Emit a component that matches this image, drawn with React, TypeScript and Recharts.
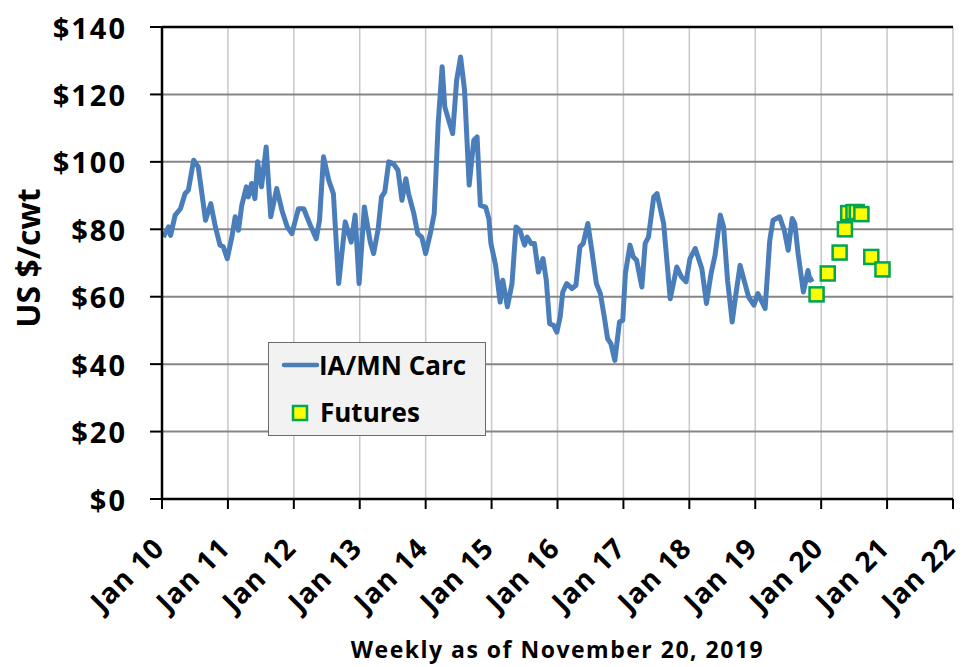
import React from "react";
import {
  ComposedChart,
  Line,
  Scatter,
  XAxis,
  YAxis,
  CartesianGrid,
  ReferenceLine,
  Label,
} from "recharts";

// weekly IA/MN carcass price, decimal year -> $/cwt
const carcWeeks = [
  2010.02, 2010.1, 2010.13, 2010.2, 2010.28, 2010.35, 2010.4, 2010.48, 2010.55, 2010.66,
  2010.74, 2010.81, 2010.88, 2010.93, 2010.99, 2011.06, 2011.11, 2011.16, 2011.21, 2011.28,
  2011.31, 2011.36, 2011.41, 2011.45, 2011.51, 2011.58, 2011.65, 2011.74, 2011.82, 2011.9,
  2011.97, 2012.07, 2012.15, 2012.25, 2012.34, 2012.39, 2012.45, 2012.53, 2012.6, 2012.68,
  2012.78, 2012.87, 2012.93, 2012.99, 2013.07, 2013.16, 2013.21, 2013.28, 2013.33, 2013.38,
  2013.44, 2013.51, 2013.58, 2013.64, 2013.7, 2013.74, 2013.82, 2013.88, 2013.94, 2014.0,
  2014.07, 2014.13, 2014.19, 2014.25, 2014.29, 2014.35, 2014.41, 2014.47, 2014.53, 2014.59,
  2014.66, 2014.73, 2014.78, 2014.83, 2014.91, 2014.96, 2014.99, 2015.06, 2015.13, 2015.17,
  2015.24, 2015.31, 2015.37, 2015.43, 2015.5, 2015.54, 2015.6, 2015.65, 2015.71, 2015.78,
  2015.83, 2015.88, 2015.94, 2015.99, 2016.04, 2016.08, 2016.14, 2016.22, 2016.28, 2016.34,
  2016.39, 2016.46, 2016.52, 2016.59, 2016.65, 2016.71, 2016.76, 2016.81, 2016.87, 2016.94,
  2016.99, 2017.03, 2017.1, 2017.15, 2017.2, 2017.28, 2017.33, 2017.38, 2017.46, 2017.51,
  2017.61, 2017.71, 2017.81, 2017.88, 2017.95, 2018.01, 2018.09, 2018.19, 2018.26, 2018.33,
  2018.39, 2018.47, 2018.52, 2018.58, 2018.65, 2018.7, 2018.77, 2018.83, 2018.9, 2018.98,
  2019.04, 2019.15, 2019.22, 2019.27, 2019.37, 2019.44, 2019.5, 2019.56, 2019.6, 2019.65,
  2019.73, 2019.8, 2019.83, 2019.88,
];
const carcPrices = [
  77.7, 80.7, 78.2, 84.2, 86.1, 90.6, 91.6, 100.5, 98.5, 82.7,
  87.6, 80.7, 75.3, 74.8, 71.3, 77.7, 83.7, 79.7, 87.1, 92.6,
  89.6, 93.6, 89.1, 100.0, 92.6, 104.4, 83.7, 92.1, 85.6, 80.7,
  78.7, 86.1, 86.1, 81.2, 77.2, 82.7, 101.5, 94.5, 90.6, 63.9,
  82.2, 76.2, 84.2, 63.9, 86.6, 76.2, 72.8, 80.2, 89.6, 91.1,
  100.0, 99.5, 97.5, 88.6, 95.0, 90.6, 84.7, 78.7, 77.7, 72.8,
  78.7, 84.7, 111.4, 128.2, 116.3, 112.3, 108.4, 124.2, 131.1, 121.2,
  93.1, 106.4, 107.4, 87.1, 86.6, 83.0, 75.8, 69.5, 58.4, 64.9,
  57.0, 63.9, 80.7, 79.7, 75.3, 77.7, 75.8, 75.8, 67.3, 71.3,
  64.9, 52.0, 51.5, 49.5, 54.0, 61.4, 63.9, 62.4, 63.4, 74.8,
  75.8, 81.7, 73.8, 63.9, 60.9, 54.0, 47.6, 46.1, 41.1, 52.5,
  53.0, 66.9, 75.3, 71.8, 70.8, 62.9, 75.8, 77.7, 89.6, 90.6,
  81.7, 59.4, 68.8, 65.9, 64.4, 71.3, 74.3, 68.3, 58.0, 66.9,
  72.3, 84.2, 80.7, 64.9, 52.5, 59.9, 69.3, 64.9, 59.9, 57.5,
  60.9, 56.5, 76.7, 82.7, 83.7, 79.7, 73.8, 83.2, 81.7, 72.8,
  61.4, 67.8, 64.9, 65.4,
];

// futures contracts
const futuresMonths = [2019.93, 2020.1, 2020.28, 2020.36, 2020.41, 2020.49, 2020.54, 2020.61, 2020.76, 2020.93];
const futuresPrices = [60.7, 66.9, 73.1, 80.0, 84.8, 85.1, 85.1, 84.5, 71.8, 68.1];

const yearTicks = [2010, 2011, 2012, 2013, 2014, 2015, 2016, 2017, 2018, 2019, 2020, 2021, 2022];
const yearLabels = [
  "Jan 10", "Jan 11", "Jan 12", "Jan 13", "Jan 14", "Jan 15", "Jan 16",
  "Jan 17", "Jan 18", "Jan 19", "Jan 20", "Jan 21", "Jan 22",
];
const priceTicks = [0, 20, 40, 60, 80, 100, 120, 140];

const FONT = "'Open Sans', sans-serif";
const BLUE = "#4a7ebb";

const carcData = carcWeeks.map((year, i) => ({ year, price: carcPrices[i] }));
const futuresData = futuresMonths.map((year, i) => ({ year, price: futuresPrices[i] }));

function FuturesSquare({ cx, cy }: any) {
  if (cx == null || cy == null) return null;
  return (
    <g>
      <rect x={cx - 6} y={cy - 6} width={14} height={14} fill="#000" opacity={0.25} />
      <rect x={cx - 7} y={cy - 7} width={14} height={14} fill="#ffff00" stroke="#00a651" strokeWidth={2.5} />
    </g>
  );
}

function XTick({ x, y, payload }: any) {
  const label = yearLabels[yearTicks.indexOf(payload.value)];
  const ax = x + 4;
  const ay = y + 41;
  return (
    <text
      x={ax}
      y={ay}
      transform={`rotate(-45 ${ax} ${ay})`}
      textAnchor="end"
      fontFamily={FONT}
      fontWeight={700}
      fontSize={28}
      letterSpacing={1}
      fill="#000"
    >
      {label}
    </text>
  );
}

function YTick({ x, y, payload }: any) {
  return (
    <text
      x={x}
      y={y}
      textAnchor="end"
      dominantBaseline="central"
      fontFamily={FONT}
      fontWeight={700}
      fontSize={29}
      letterSpacing={2}
      fill="#000"
    >
      ${payload.value}
    </text>
  );
}

function LegendBox() {
  return (
    <div
      style={{
        position: "absolute",
        left: 268,
        top: 342,
        width: 218,
        height: 94,
        boxSizing: "border-box",
        background: "#f2f2f2",
        border: "1px solid #6b6b6b",
      }}
    >
      <svg width={216} height={92} style={{ display: "block" }}>
        <line x1={15} y1={22} x2={48} y2={22} stroke={BLUE} strokeWidth={4.5} strokeLinecap="round" />
        <text x={50} y={22} dominantBaseline="central" fontFamily={FONT} fontWeight={700} fontSize={26} fill="#000">
          IA/MN Carc
        </text>
        <rect x={24} y={63} width={14} height={14} fill="#ffff00" stroke="#00a651" strokeWidth={2.5} />
        <text x={51} y={69} dominantBaseline="central" fontFamily={FONT} fontWeight={700} fontSize={26} fill="#000">
          Futures
        </text>
      </svg>
    </div>
  );
}

export default function App() {
  return (
    <div style={{ position: "absolute", left: 0, top: 0, width: 965, height: 667, background: "#fff" }}>
      <ComposedChart width={965} height={667} margin={{ top: 27, right: 12, bottom: 0, left: 0 }}>
        <CartesianGrid horizontal={false} stroke="#c8c8c8" strokeWidth={1.5} />
        <CartesianGrid vertical={false} stroke="#868686" strokeWidth={2} />
        <XAxis
          type="number"
          dataKey="year"
          domain={[2010, 2022]}
          ticks={yearTicks}
          interval={0}
          allowDataOverflow
          height={168}
          tickSize={10}
          tickMargin={0}
          axisLine={{ stroke: "#000", strokeWidth: 2.5 }}
          tickLine={{ stroke: "#000", strokeWidth: 2 }}
          tick={<XTick />}
        >
          <Label
            content={({ viewBox }: any) => (
              <text
                x={viewBox.x + viewBox.width / 2}
                y={658}
                textAnchor="middle"
                fontFamily={FONT}
                fontWeight={700}
                fontSize={23}
                letterSpacing={1.5}
                fill="#000"
              >
                Weekly as of November 20, 2019
              </text>
            )}
          />
        </XAxis>
        <YAxis
          type="number"
          domain={[0, 140]}
          ticks={priceTicks}
          interval={0}
          width={162}
          tickSize={12}
          tickMargin={23}
          axisLine={{ stroke: "#000", strokeWidth: 2.5 }}
          tickLine={{ stroke: "#000", strokeWidth: 2 }}
          tick={<YTick />}
        >
          <Label
            content={() => (
              <text
                x={27}
                y={258}
                transform="rotate(-90 27 258)"
                textAnchor="middle"
                dominantBaseline="central"
                fontFamily={FONT}
                fontWeight={700}
                fontSize={32}
                fill="#000"
              >
                US $/cwt
              </text>
            )}
          />
        </YAxis>
        <ReferenceLine y={140} stroke="#000" strokeWidth={2.5} />
        <Line
          data={carcData}
          dataKey="price"
          type="linear"
          stroke={BLUE}
          strokeWidth={5}
          strokeLinejoin="round"
          dot={false}
          activeDot={false}
          isAnimationActive={false}
        />
        <Scatter
          data={futuresData}
          dataKey="price"
          shape={<FuturesSquare />}
          isAnimationActive={false}
        />
      </ComposedChart>
      <LegendBox />
    </div>
  );
}
